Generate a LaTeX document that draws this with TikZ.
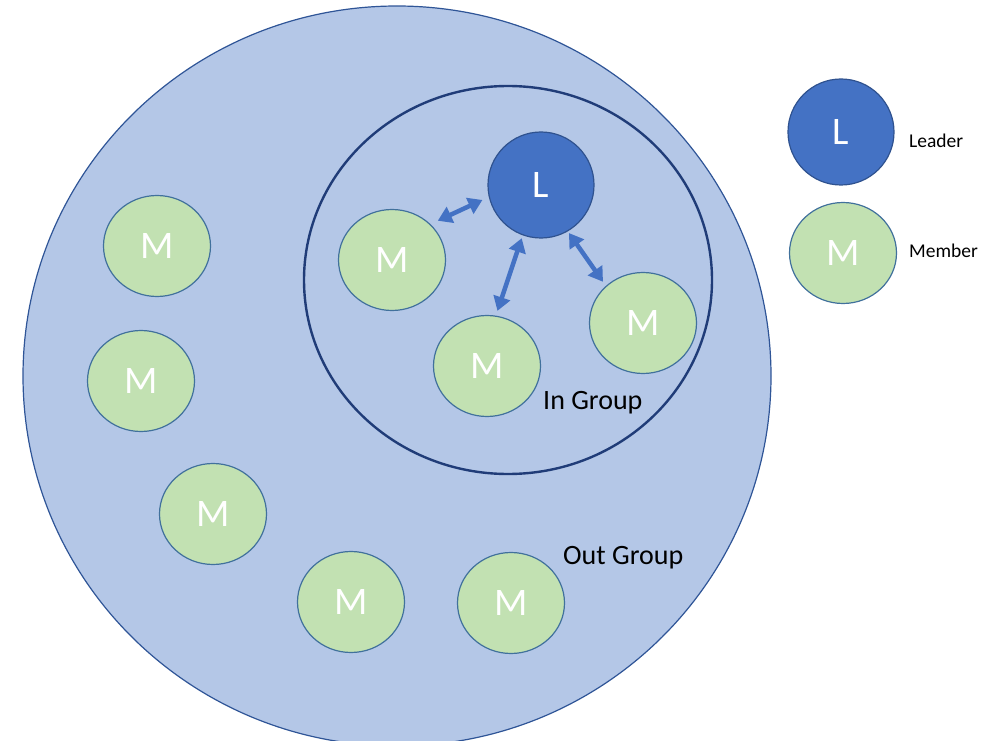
\documentclass[tikz,border=0pt]{standalone}
\usepackage{fontspec}
\setmainfont{Carlito}
\usetikzlibrary{shapes.geometric,arrows.meta}
\definecolor{groupfill}{HTML}{B4C7E7}
\definecolor{groupline}{HTML}{2F5597}
\definecolor{ingroupline}{HTML}{203C78}
\definecolor{leaderfill}{HTML}{4472C4}
\definecolor{leaderline}{HTML}{2F528F}
\definecolor{memberfill}{HTML}{C2E1B2}
\definecolor{memberline}{HTML}{41719C}
\definecolor{linkcol}{HTML}{4472C4}
\begin{document}
\begin{tikzpicture}[x=1pt,y=-1pt,
  member/.style={ellipse, draw=memberline, line width=1.2pt, fill=memberfill,
    minimum width=107pt, minimum height=101pt, inner sep=0pt, text=white,
    font=\fontsize{39}{39}\selectfont},
  leader/.style={circle, draw=leaderline, line width=1.2pt, fill=leaderfill,
    minimum size=106pt, inner sep=0pt, text=white,
    font=\fontsize{39}{39}\selectfont},
  link/.style={draw=linkcol, line width=4.5pt,
    {Triangle[length=14pt,width=17pt]}-{Triangle[length=14pt,width=17pt]}},
  grouptext/.style={anchor=base west, inner sep=0pt, font=\fontsize{28}{28}\selectfont},
  legendtext/.style={anchor=base west, inner sep=0pt, font=\fontsize{19.5}{19.5}\selectfont}]
\useasboundingbox (0,0) rectangle (994,741);
\clip (0,0) rectangle (994,741);

% groups
\node[ellipse, draw=groupline, line width=1.2pt, fill=groupfill,
  minimum width=748pt, minimum height=740pt, inner sep=0pt] (out) at (397,376) {};
\node[ellipse, draw=ingroupline, line width=2.4pt,
  minimum width=408pt, minimum height=388pt, inner sep=0pt] (in) at (508,280) {};

% in group
\node[leader] (L) at (541,185) {L};
\node[member] (m2) at (392,260) {M};
\node[member] (m3) at (487,366) {M};
\node[member] (m4) at (643,323) {M};

% out group
\node[member] (m1) at (157,246) {M};
\node[member] (m5) at (141,381) {M};
\node[member] (m6) at (213,514) {M};
\node[member] (m7) at (351,602) {M};
\node[member] (m8) at (511,603) {M};

% leader-member links
\draw[link, shorten <=7pt, shorten >=8pt] (L.193) -- (m2.43);
\draw[link, shorten <=3pt, shorten >=5pt] (L.250) -- (m3.80);
\draw[link, shorten <=2pt, shorten >=5pt] (L.300) -- (m4.135);

% labels
\node[grouptext] (ing) at (543,409) {In Group};
\node[grouptext] (outg) at (563,564) {Out Group};

% legend
\node[leader] (kL) at (841,132) {L};
\node[member] (kM) at (843,253) {M};
\node[legendtext] (kLt) at (909,148) {Leader};
\node[legendtext] (kMt) at (909,258) {Member};
\end{tikzpicture}
\end{document}
